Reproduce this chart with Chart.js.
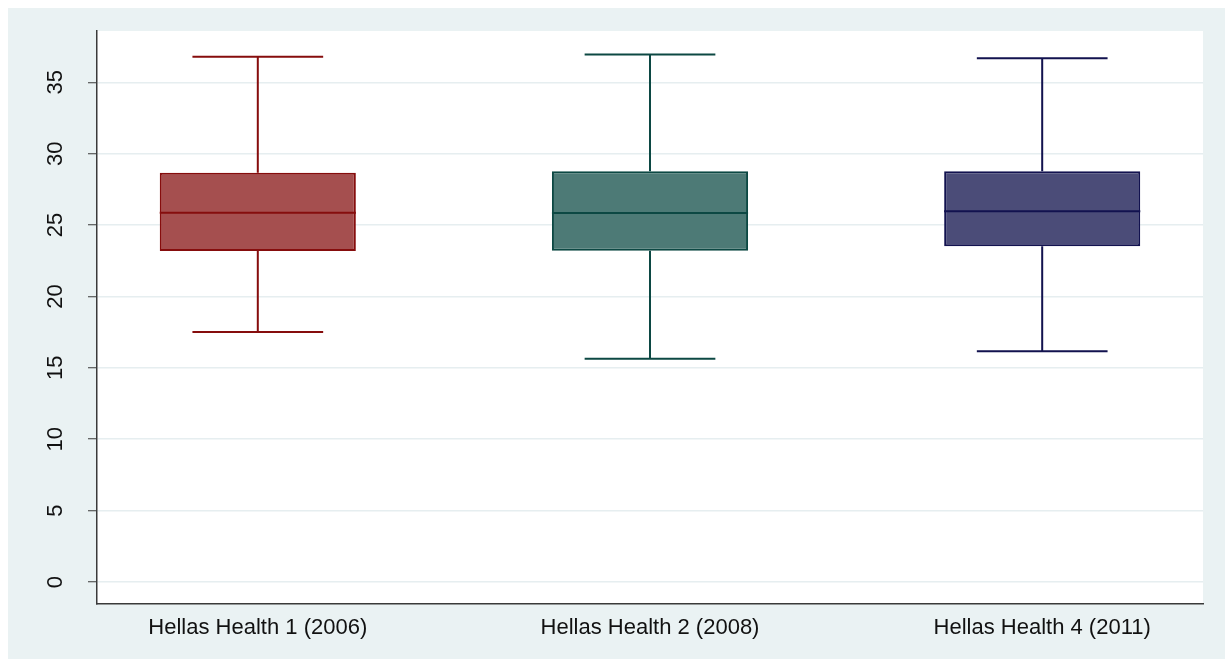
<!DOCTYPE html>
<html lang="en">
<head>
    <meta charset="UTF-8" />
    <title>Hellas Health box plot</title>
    <script src="https://cdn.jsdelivr.net/npm/chart.js"></script>
    <style>
        body {
            margin: 0;
            background: #ffffff;
        }

        .chart-container {
            position: absolute;
            left: 8px;
            top: 8px;
            width: 1217px;
            height: 651px;
            background: #eaf2f3;
        }
    </style>
</head>
<body>
    <div class="chart-container">
        <canvas id="boxChart"></canvas>
    </div>

    <script>
        const groups = ['Hellas Health 1 (2006)', 'Hellas Health 2 (2008)', 'Hellas Health 4 (2011)'];
        const lowerWhisker = [17.51, 15.64, 16.16];
        const q1 = [23.18, 23.20, 23.51];
        const median = [25.86, 25.84, 25.96];
        const q3 = [28.66, 28.76, 28.76];
        const upperWhisker = [36.79, 36.95, 36.69];
        const yTicks = [0, 5, 10, 15, 20, 25, 30, 35];

        const fills = ['#a54f4f', '#4d7a76', '#4b4c78'];
        const lines = ['#860d0d', '#0c4843', '#12124f'];
        const textFont = { family: "'Liberation Sans', Arial, sans-serif", size: 22 };

        // white plot region on top of the light page background
        const plotBackground = {
            id: 'plotBackground',
            beforeDraw(chart) {
                const { ctx, chartArea: a } = chart;
                ctx.save();
                ctx.fillStyle = '#ffffff';
                ctx.fillRect(a.left, a.top, a.right - a.left, a.bottom - a.top);
                ctx.restore();
            }
        };

        // whiskers behind the boxes, medians on top
        const boxParts = {
            id: 'boxParts',
            beforeDatasetsDraw(chart) {
                const { ctx, scales: { x, y } } = chart;
                ctx.save();
                ctx.lineWidth = 2;
                groups.forEach((g, i) => {
                    const cx = x.getPixelForValue(i + 1);
                    const half = (x.getPixelForValue(i + 1 + 1 / 6) - cx);
                    ctx.strokeStyle = lines[i];
                    ctx.beginPath();
                    ctx.moveTo(cx, y.getPixelForValue(upperWhisker[i]));
                    ctx.lineTo(cx, y.getPixelForValue(q3[i]));
                    ctx.moveTo(cx, y.getPixelForValue(q1[i]));
                    ctx.lineTo(cx, y.getPixelForValue(lowerWhisker[i]));
                    ctx.moveTo(cx - half, y.getPixelForValue(upperWhisker[i]));
                    ctx.lineTo(cx + half, y.getPixelForValue(upperWhisker[i]));
                    ctx.moveTo(cx - half, y.getPixelForValue(lowerWhisker[i]));
                    ctx.lineTo(cx + half, y.getPixelForValue(lowerWhisker[i]));
                    ctx.stroke();
                });
                ctx.restore();
            },
            afterDatasetsDraw(chart) {
                const { ctx, scales: { y } } = chart;
                const meta = chart.getDatasetMeta(0);
                ctx.save();
                ctx.lineWidth = 2;
                meta.data.forEach((bar, i) => {
                    const my = y.getPixelForValue(median[i]);
                    ctx.strokeStyle = lines[i];
                    ctx.beginPath();
                    ctx.moveTo(bar.x - bar.width / 2, my);
                    ctx.lineTo(bar.x + bar.width / 2, my);
                    ctx.stroke();
                });
                ctx.restore();
            }
        };

        const ctx = document.getElementById('boxChart').getContext('2d');

        new Chart(ctx, {
            type: 'bar',
            data: {
                datasets: [{
                    data: groups.map((g, i) => ({ x: i + 1, y: [q1[i], q3[i]] })),
                    backgroundColor: fills,
                    borderColor: lines,
                    borderWidth: 2,
                    borderSkipped: false,
                    barPercentage: 0.5,
                    categoryPercentage: 1
                }]
            },
            options: {
                responsive: true,
                maintainAspectRatio: false,
                animation: false,
                layout: {
                    padding: { top: 23, right: 22, left: 0, bottom: 0 }
                },
                scales: {
                    x: {
                        type: 'linear',
                        offset: false,
                        min: 0.59,
                        max: 3.41,
                        afterBuildTicks: (s) => { s.ticks = groups.map((g, i) => ({ value: i + 1 })); },
                        afterFit: (s) => {
                            s.height = 55;
                            s.paddingLeft = 0;
                            s.paddingRight = 0;
                        },
                        grid: { display: false, drawTicks: false },
                        border: { display: true, color: '#3a3a3a', width: 1.5 },
                        ticks: {
                            font: textFont,
                            color: '#111111',
                            padding: 11,
                            maxRotation: 0,
                            autoSkip: false,
                            callback: (v) => groups[v - 1]
                        }
                    },
                    y: {
                        min: -1.54,
                        max: 38.59,
                        afterBuildTicks: (s) => { s.ticks = yTicks.map(v => ({ value: v })); },
                        afterFit: (s) => {
                            s.width = 89;
                            s.paddingTop = 0;
                            s.paddingBottom = 0;
                        },
                        grid: {
                            color: '#e6eef0',
                            lineWidth: 1.5,
                            tickColor: '#3a3a3a',
                            tickWidth: 1,
                            tickLength: 9
                        },
                        border: { display: true, color: '#3a3a3a', width: 1.5 },
                        ticks: {
                            font: textFont,
                            color: '#111111',
                            padding: 20,
                            minRotation: 90,
                            maxRotation: 90,
                            crossAlign: 'center'
                        }
                    }
                },
                plugins: {
                    legend: { display: false },
                    tooltip: { enabled: false }
                }
            },
            plugins: [plotBackground, boxParts]
        });
    </script>
</body>
</html>
